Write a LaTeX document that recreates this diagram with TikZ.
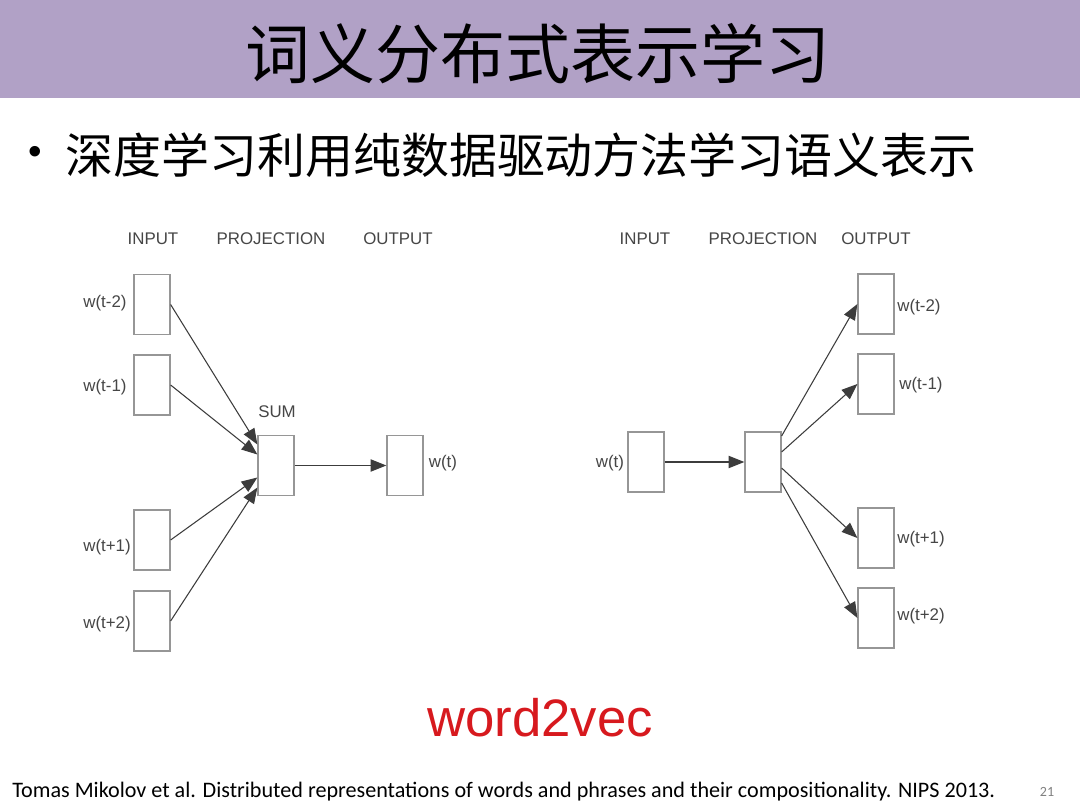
\documentclass[tikz,border=0pt]{standalone}
\usepackage{fontspec}
\setmainfont{Liberation Sans}
\newfontfamily\cjk{Noto Sans CJK SC}
\newfontfamily\citefont{Carlito}
\usetikzlibrary{arrows.meta}
\definecolor{titlebar}{RGB}{177,161,198}
\definecolor{boxgray}{RGB}{150,150,150}
\definecolor{labgray}{RGB}{70,70,70}
\definecolor{arrgray}{RGB}{60,60,60}
\definecolor{w2vred}{RGB}{215,25,30}
\begin{document}
\begin{tikzpicture}[x=0.02cm,y=-0.02cm,
  wbox/.style={draw=boxgray,line width=0.7pt,minimum width=0.72cm,minimum height=1.2cm,inner sep=0pt},
  lab/.style={text=labgray,font=\fontsize{9.6}{11}\selectfont,inner sep=0pt},
  arr/.style={draw=arrgray,line width=0.6pt,-{Triangle[length=9pt,width=7pt]}}]
\useasboundingbox (0,0) rectangle (1080,810);
\fill[white] (0,0) rectangle (1080,810);
\fill[titlebar] (0,0) rectangle (1080,98);
\node (title) at (538,54) {\cjk\fontsize{37}{37}\selectfont 词义分布式表示学习};
\node (bullet) at (35,155) {\fontsize{22}{22}\selectfont •};
\node[anchor=west,inner sep=0pt] (bt) at (65,155) {\cjk\fontsize{27.3}{28}\selectfont 深度学习利用纯数据驱动方法学习语义表示};
% left diagram (CBOW)
\node[lab] (li) at (153,239) {INPUT};
\node[lab] (lp) at (271,239) {PROJECTION};
\node[lab] (lo) at (398,239) {OUTPUT};
\node[wbox] (a1) at (152,304.5) {};
\node[wbox] (a2) at (152,385) {};
\node[wbox] (a3) at (152,540) {};
\node[wbox] (a4) at (152,621) {};
\node[wbox] (sum) at (276,465.5) {};
\node[wbox] (lout) at (405,465.5) {};
\node[lab] (la1) at (105,303) {w(t-2)};
\node[lab] (la2) at (105,387) {w(t-1)};
\node[lab] (la3) at (107,547) {w(t+1)};
\node[lab] (la4) at (107,624) {w(t+2)};
\node[lab] (lsum) at (277,412) {SUM};
\node[lab] (lwt) at (443,463) {w(t)};
\draw[arr] (a1.east) -- ([yshift=0.42cm]sum.west);
\draw[arr] (a2.east) -- ([yshift=0.22cm]sum.west);
\draw[arr] (a3.east) -- ([yshift=-0.24cm]sum.west);
\draw[arr] (a4.east) -- ([yshift=-0.44cm]sum.west);
\draw[arr] (sum.east) -- (lout.west);
% right diagram (skip-gram)
\node[lab] (ri) at (645,239) {INPUT};
\node[lab] (rp) at (763,239) {PROJECTION};
\node[lab] (ro) at (876,239) {OUTPUT};
\node[wbox] (rin) at (646,462) {};
\node[wbox] (proj) at (763,462) {};
\node[wbox] (b1) at (876,304) {};
\node[wbox] (b2) at (876,384) {};
\node[wbox] (b3) at (876,538) {};
\node[wbox] (b4) at (876,618) {};
\node[lab] (rwt) at (610,463) {w(t)};
\node[lab] (rb1) at (919,307) {w(t-2)};
\node[lab] (rb2) at (921,385) {w(t-1)};
\node[lab] (rb3) at (921,539) {w(t+1)};
\node[lab] (rb4) at (921,616) {w(t+2)};
\draw[arr] (rin.east) -- (proj.west);
\draw[arr] ([yshift=0.52cm]proj.east) -- (b1.west);
\draw[arr] ([yshift=0.2cm]proj.east) -- (b2.west);
\draw[arr] ([yshift=-0.12cm]proj.east) -- (b3.west);
\draw[arr] ([yshift=-0.42cm]proj.east) -- (b4.west);
% captions
\node[text=w2vred] (w2v) at (540,718) {\fontsize{30}{30}\selectfont word2vec};
\node[anchor=west,inner sep=0pt] (cite) at (12,792) {\citefont\fontsize{12.6}{14}\selectfont Tomas Mikolov et al. Distributed representations of words and phrases and their compositionality. NIPS 2013.};
\node[text=gray] (pg) at (1047,792) {\citefont\fontsize{8}{9}\selectfont 21};
\end{tikzpicture}
\end{document}
